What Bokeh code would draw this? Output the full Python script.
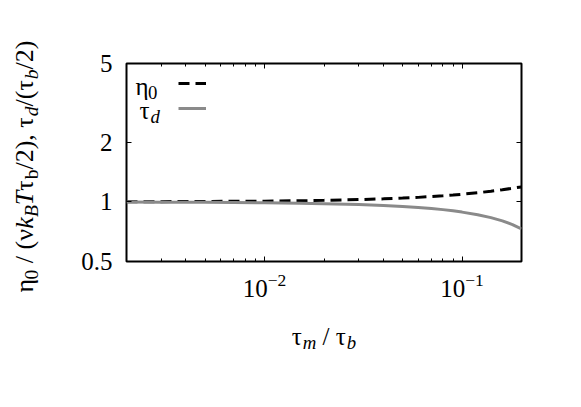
import math
from bokeh.plotting import figure
from bokeh.layouts import column, row
from bokeh.models import (LogAxis, FixedTicker, Label, Legend, LegendItem,
                          Range1d, CustomJSTickFormatter, LogTickFormatter)
from bokeh.embed import file_html
from bokeh.resources import INLINE

# ---- data ----
tau_ratio = [0.002, 0.003, 0.005, 0.007, 0.01, 0.015, 0.02, 0.03, 0.04, 0.05,
             0.06, 0.07, 0.08, 0.09, 0.1, 0.12, 0.14, 0.16, 0.18, 0.2]
eta0 = [1.002, 1.003, 1.005, 1.007, 1.009, 1.013, 1.018, 1.027, 1.036, 1.045,
        1.054, 1.064, 1.073, 1.083, 1.093, 1.112, 1.132, 1.152, 1.172, 1.19]
tau_d = [0.998, 0.997, 0.995, 0.993, 0.99, 0.985, 0.98, 0.97, 0.96, 0.949,
         0.938, 0.926, 0.914, 0.901, 0.888, 0.862, 0.833, 0.802, 0.768, 0.73]
x_ticks = [0.01, 0.1]
x_minor_ticks = [0.002, 0.003, 0.004, 0.005, 0.006, 0.007, 0.008, 0.009,
                 0.02, 0.03, 0.04, 0.05, 0.06, 0.07, 0.08, 0.09, 0.2]
y_ticks = [0.5, 1, 2, 5]
y_tick_labels = ["0.5", "1", "2", "5"]
x_range = (0.002, 0.2)
y_range = (0.5, 5)

FONT = "Liberation Serif"
F = 25

TOTAL_W, TOTAL_H = 575, 400
LEFT_W = 70
MAIN_H = 310
FRAME_L, FRAME_T, FRAME_W, FRAME_H = 126, 63, 395, 198

p = figure(width=TOTAL_W - LEFT_W, height=MAIN_H, x_axis_type="log", y_axis_type="log",
           x_range=Range1d(*x_range), y_range=Range1d(*y_range),
           output_backend="svg", toolbar_location=None,
           min_border_left=FRAME_L - LEFT_W,
           min_border_right=TOTAL_W - FRAME_L - FRAME_W,
           min_border_top=FRAME_T, min_border_bottom=MAIN_H - FRAME_T - FRAME_H)
p.grid.visible = False
p.outline_line_color = "black"
p.outline_line_width = 2
p.background_fill_color = "white"
p.border_fill_color = "white"

def style_axis(ax):
    ax.axis_line_color = None
    ax.major_tick_in = 5
    ax.major_tick_out = 0
    ax.minor_tick_in = 3
    ax.minor_tick_out = 0
    ax.major_tick_line_color = "black"
    ax.minor_tick_line_color = "black"
    ax.major_tick_line_width = 1
    ax.minor_tick_line_width = 1
    ax.major_label_text_font = FONT
    ax.major_label_text_font_size = f"{F}px"
    ax.major_label_text_color = "black"

xt = FixedTicker(ticks=x_ticks, minor_ticks=x_minor_ticks)
yt = FixedTicker(ticks=y_ticks, minor_ticks=[])
overrides = {str(t): l for t, l in zip(y_ticks, y_tick_labels)}

xa = p.xaxis[0]
xa.ticker = xt
xa.formatter = LogTickFormatter()
style_axis(xa)
xa.major_label_standoff = 12
ya = p.yaxis[0]
ya.ticker = yt
style_axis(ya)
ya.major_label_overrides = overrides
ya.major_label_standoff = 14

blank = CustomJSTickFormatter(code="return ''")
top = LogAxis(ticker=xt, formatter=blank)
style_axis(top)
top.major_label_standoff = 0
p.add_layout(top, "above")
right = LogAxis(ticker=yt, formatter=blank)
style_axis(right)
right.major_label_standoff = 0
p.add_layout(right, "right")

r_eta = p.line(tau_ratio, eta0, line_color="black", line_width=3, line_dash="11 6")
r_tau = p.line(tau_ratio, tau_d, line_color="#8a8a8a", line_width=3)

# legend samples (texts placed separately, gnuplot style: text then sample)
leg = Legend(items=[LegendItem(label=" ", renderers=[r_eta]),
                    LegendItem(label=" ", renderers=[r_tau])],
             location=(52, 143), padding=0, margin=0, spacing=5,
             glyph_width=28, glyph_height=20, label_height=20, label_width=0,
             label_standoff=0, border_line_color=None, background_fill_alpha=0,
             label_text_font_size="1px")
p.add_layout(leg, "center")

def blank_fig(w, h):
    f = figure(width=w, height=h, x_range=Range1d(0, 1), y_range=Range1d(0, 1),
               output_backend="svg", toolbar_location=None,
               x_axis_location=None, y_axis_location=None, min_border=0)
    f.grid.visible = False
    f.outline_line_color = None
    f.background_fill_color = "white"
    f.border_fill_color = "white"
    return f

left_fig = blank_fig(LEFT_W, TOTAL_H)
bottom_fig = blank_fig(TOTAL_W - LEFT_W, TOTAL_H - MAIN_H)

# ---- rich text helper ----
W_REG = {'0': .5, '1': .5, '2': .5, '/': .278, '(': .333, ')': .333, ',': .25, ' ': .25,
         'b': .5, 'η': .5, 'τ': .44, 'ν': .47}
W_IT = {'k': .444, 'B': .611, 'T': .556, 'd': .5, 'm': .722, 'b': .5}
SUB = 0.75
SHIFT = 0.25

def run_width(text, italic, size):
    tab = W_IT if italic else W_REG
    return sum(tab.get(c, W_REG.get(c, .5)) for c in text) * size

def total_width(runs, fs):
    return sum(run_width(t, it, fs if lvl == 0 else fs * SUB) for t, it, lvl in runs)

def place(fig, runs, x0, y0, fs=F, vertical=False):
    pos = 0.0
    for text, italic, lvl in runs:
        size = fs if lvl == 0 else fs * SUB
        shift = 0 if lvl == 0 else SHIFT * fs
        stripped = text.lstrip()
        lead = run_width(text[:len(text) - len(stripped)], italic, size)
        if vertical:
            x, y = x0 + shift, y0 + pos + lead
        else:
            x, y = x0 + pos + lead, y0 - shift
        fig.add_layout(Label(x=x, y=y, x_units="screen", y_units="screen",
                             text=stripped.rstrip(), angle=math.pi / 2 if vertical else 0,
                             text_font=FONT, text_font_size=f"{size:.1f}px",
                             text_font_style="italic" if italic else "normal",
                             text_color="black", text_baseline="alphabetic",
                             text_align="left"))
        pos += run_width(text, italic, size)

ylabel = [("η", False, 0), ("0", False, -1), (" / (ν", False, 0), ("k", True, 0),
          ("B", True, -1), ("T", True, 0), ("τ", False, 0), ("b", False, -1),
          ("/2), τ", False, 0), ("d", True, -1), ("/(τ", False, 0), ("b", True, -1),
          ("/2)", False, 0)]
xlabel = [("τ", False, 0), ("m", True, -1), (" / τ", False, 0), ("b", True, -1)]

FY = 26
# y label: centred at page y ~166, left of the tick labels
place(left_fig, ylabel, 24, (TOTAL_H - 166) - total_width(ylabel, FY) / 2, fs=FY, vertical=True)
# x label: baseline at page y ~336, centred on the (aligned) frame
place(bottom_fig, xlabel, FRAME_W / 2 - total_width(xlabel, F) / 2, TOTAL_H - 336)
# legend texts (frame-relative)
place(p, [("η", False, 0), ("0", False, -1)], 9, 175)
place(p, [("τ", False, 0), ("d", True, -1)], 13, 151)

layout = row(left_fig, column(p, bottom_fig, spacing=0), spacing=0)
open("out.html", "w").write(file_html(layout, INLINE))
